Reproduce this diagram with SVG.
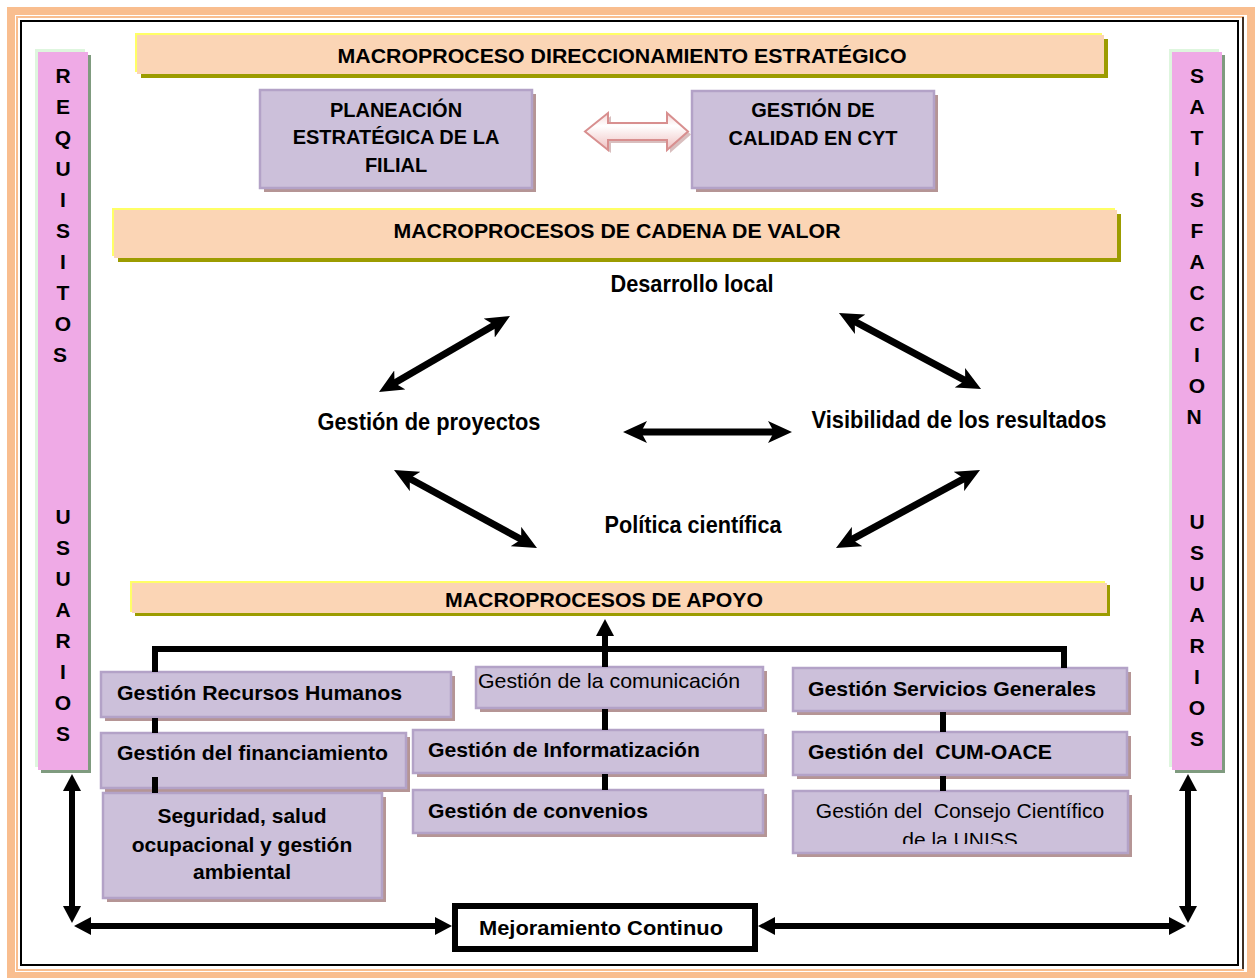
<svg xmlns="http://www.w3.org/2000/svg" width="1255" height="978" viewBox="0 0 1255 978">
<defs>
<style>
.t{font-family:"Liberation Sans",Arial,sans-serif;fill:#000}
.b{font-weight:bold}
.bar{fill:#efaae6}
.barhl{fill:#def6de}
.barsh{fill:#7f9b7f}
.ttl{fill:#fbd5b5}
.ttlhl{fill:#ffff66}
.ttlsh{fill:#9c9c00}
.box{fill:#ccc0da;stroke:#b3a2c7;stroke-width:2.5}
.sh{fill:#b59595}
.ln{stroke:#000;stroke-width:6;fill:none}
.cyc{stroke:#000;stroke-width:7;fill:none;marker-start:url(#st);marker-end:url(#st)}
</style>
<marker id="st" viewBox="0 0 26 22" refX="10" refY="11" markerWidth="26" markerHeight="22" markerUnits="userSpaceOnUse" orient="auto-start-reverse">
<path d="M24,11 L0,0 L6,11 L0,22 Z" fill="#000"/>
</marker>
<marker id="tri" viewBox="0 0 18 18" refX="2" refY="9" markerWidth="18" markerHeight="18" markerUnits="userSpaceOnUse" orient="auto-start-reverse">
<path d="M17,9 L0,0 L0,18 Z" fill="#000"/>
</marker>
<linearGradient id="pg" x1="0" y1="0" x2="0" y2="1">
<stop offset="0" stop-color="#f6d6d6"/>
<stop offset="0.35" stop-color="#ffffff"/>
<stop offset="1" stop-color="#efc0c0"/>
</linearGradient>
<clipPath id="cc"><rect x="793" y="791" width="336" height="53"/></clipPath>
</defs>
<rect width="1255" height="978" fill="#fff"/>
<g id="frame">
<rect x="11" y="11" width="1240" height="965" fill="none" stroke="#f9be8f" stroke-width="8"/>
<rect x="17" y="17" width="1226" height="953" fill="none" stroke="#f9be8f" stroke-width="2"/>
<line x1="1243" y1="17" x2="1243" y2="969" stroke="#000" stroke-width="1.5"/>
<rect x="21" y="21" width="1217" height="944" fill="none" stroke="#000" stroke-width="2"/>
</g>
<g id="requisitos">
<rect class="barhl" x="35" y="49" width="50" height="718"/>
<rect class="barsh" x="41" y="55" width="50" height="718"/>
<rect class="bar" x="38" y="52" width="50" height="718"/>
<text class="t b" font-size="21" text-anchor="middle">
<tspan x="63" y="83">R</tspan><tspan x="63" y="114">E</tspan><tspan x="63" y="145">Q</tspan><tspan x="63" y="176">U</tspan><tspan x="63" y="207">I</tspan><tspan x="63" y="238">S</tspan><tspan x="63" y="269">I</tspan><tspan x="63" y="300">T</tspan><tspan x="63" y="331">O</tspan><tspan x="63" y="362">S</tspan>
<tspan x="63" y="524">U</tspan><tspan x="63" y="555">S</tspan><tspan x="63" y="586">U</tspan><tspan x="63" y="617">A</tspan><tspan x="63" y="648">R</tspan><tspan x="63" y="679">I</tspan><tspan x="63" y="710">O</tspan><tspan x="63" y="741">S</tspan>
</text>
</g>
<g id="satisfaccion">
<rect class="barhl" x="1169" y="49" width="50" height="718"/>
<rect class="barsh" x="1175" y="55" width="50" height="718"/>
<rect class="bar" x="1172" y="52" width="50" height="718"/>
<text class="t b" font-size="21" text-anchor="middle">
<tspan x="1197" y="83">S</tspan><tspan x="1197" y="114">A</tspan><tspan x="1197" y="145">T</tspan><tspan x="1197" y="176">I</tspan><tspan x="1197" y="207">S</tspan><tspan x="1197" y="238">F</tspan><tspan x="1197" y="269">A</tspan><tspan x="1197" y="300">C</tspan><tspan x="1197" y="331">C</tspan><tspan x="1197" y="362">I</tspan><tspan x="1197" y="393">O</tspan><tspan x="1197" y="424">N</tspan>
<tspan x="1197" y="529">U</tspan><tspan x="1197" y="560">S</tspan><tspan x="1197" y="591">U</tspan><tspan x="1197" y="622">A</tspan><tspan x="1197" y="653">R</tspan><tspan x="1197" y="684">I</tspan><tspan x="1197" y="715">O</tspan><tspan x="1197" y="746">S</tspan>
</text>
</g>
<g id="direccionamiento">
<rect class="ttlhl" x="135" y="33" width="967" height="39"/>
<rect class="ttlsh" x="141" y="39" width="967" height="39"/>
<rect class="ttl" x="137" y="35" width="967" height="39"/>
<text class="t b" font-size="21" x="622" y="63" text-anchor="middle" textLength="569" lengthAdjust="spacingAndGlyphs">MACROPROCESO DIRECCIONAMIENTO ESTRATÉGICO</text>
</g>
<g id="planeacion">
<rect class="sh" x="264" y="94" width="272" height="98"/>
<rect class="box" x="260" y="90" width="272" height="98"/>
<text class="t b" font-size="20" text-anchor="middle"><tspan x="396" y="117">PLANEACIÓN</tspan><tspan x="396" y="144">ESTRATÉGICA  DE LA</tspan><tspan x="396" y="172">FILIAL</tspan></text>
</g>
<g id="calidad">
<rect class="sh" x="696" y="95" width="242" height="97"/>
<rect class="box" x="692" y="91" width="242" height="97"/>
<text class="t b" font-size="20" text-anchor="middle"><tspan x="813" y="117">GESTIÓN DE</tspan><tspan x="813" y="145">CALIDAD EN CYT</tspan></text>
</g>
<g id="cadena">
<rect class="ttlhl" x="112" y="208" width="1003" height="48"/>
<rect class="ttlsh" x="118" y="214" width="1003" height="48"/>
<rect class="ttl" x="114" y="210" width="1003" height="48"/>
<text class="t b" font-size="21" x="617" y="238" text-anchor="middle" textLength="447" lengthAdjust="spacingAndGlyphs">MACROPROCESOS DE CADENA DE VALOR</text>
</g>
<g id="desarrollo"><text class="t b" font-size="24" x="692" y="292" text-anchor="middle" textLength="163" lengthAdjust="spacingAndGlyphs">Desarrollo local</text></g>
<g id="proyectos"><text class="t b" font-size="24" x="429" y="430" text-anchor="middle" textLength="223" lengthAdjust="spacingAndGlyphs">Gestión de proyectos</text></g>
<g id="visibilidad"><text class="t b" font-size="24" x="959" y="428" text-anchor="middle" textLength="295" lengthAdjust="spacingAndGlyphs">Visibilidad de los resultados</text></g>
<g id="politica"><text class="t b" font-size="24" x="693" y="533" text-anchor="middle" textLength="177" lengthAdjust="spacingAndGlyphs">Política científica</text></g>
<g id="apoyo">
<rect class="ttlhl" x="130" y="581" width="975" height="31"/>
<rect class="ttlsh" x="135" y="585" width="975" height="31"/>
<rect class="ttl" x="132" y="583" width="975" height="30"/>
<text class="t b" font-size="21" x="604" y="607" text-anchor="middle" textLength="318" lengthAdjust="spacingAndGlyphs">MACROPROCESOS DE APOYO</text>
</g>
<g id="rrhh">
<rect class="sh" x="105" y="676" width="350" height="45"/>
<rect class="box" x="101" y="672" width="350" height="45"/>
<text class="t b" font-size="21" x="117" y="700" textLength="285" lengthAdjust="spacingAndGlyphs">Gestión Recursos Humanos</text>
</g>
<g id="financiamiento">
<rect class="sh" x="105" y="737" width="305" height="55"/>
<rect class="box" x="101" y="733" width="305" height="55"/>
<text class="t b" font-size="21" x="117" y="760" textLength="271" lengthAdjust="spacingAndGlyphs">Gestión del financiamiento</text>
</g>
<g id="seguridad">
<rect class="sh" x="107" y="797" width="279" height="105"/>
<rect class="box" x="103" y="793" width="279" height="105"/>
<text class="t b" font-size="21" text-anchor="middle"><tspan x="242" y="823">Seguridad, salud</tspan><tspan x="242" y="852">ocupacional y gestión</tspan><tspan x="242" y="879">ambiental</tspan></text>
</g>
<g id="comunicacion">
<rect class="sh" x="480" y="671" width="287" height="41"/>
<rect class="box" x="476" y="667" width="287" height="41"/>
<text class="t" font-size="21" x="478" y="688" textLength="262" lengthAdjust="spacingAndGlyphs">Gestión de la comunicación</text>
</g>
<g id="informatizacion">
<rect class="sh" x="417" y="734" width="350" height="43"/>
<rect class="box" x="413" y="730" width="350" height="43"/>
<text class="t b" font-size="21" x="428" y="757" textLength="272" lengthAdjust="spacingAndGlyphs">Gestión de Informatización</text>
</g>
<g id="convenios">
<rect class="sh" x="417" y="794" width="350" height="43"/>
<rect class="box" x="413" y="790" width="350" height="43"/>
<text class="t b" font-size="21" x="428" y="818" textLength="220" lengthAdjust="spacingAndGlyphs">Gestión de convenios</text>
</g>
<g id="servicios">
<rect class="sh" x="797" y="672" width="334" height="43"/>
<rect class="box" x="793" y="668" width="334" height="43"/>
<text class="t b" font-size="21" x="808" y="696" textLength="288" lengthAdjust="spacingAndGlyphs">Gestión Servicios Generales</text>
</g>
<g id="cumoace">
<rect class="sh" x="797" y="736" width="334" height="43"/>
<rect class="box" x="793" y="732" width="334" height="43"/>
<text class="t b" font-size="21" x="808" y="759" textLength="244" lengthAdjust="spacingAndGlyphs" xml:space="preserve">Gestión del  CUM-OACE</text>
</g>
<g id="consejo">
<rect class="sh" x="797" y="795" width="335" height="62"/>
<rect class="box" x="793" y="791" width="335" height="62"/>
<g clip-path="url(#cc)">
<text class="t" font-size="21" text-anchor="middle" xml:space="preserve"><tspan x="960" y="818">Gestión del  Consejo Científico</tspan><tspan x="960" y="847">de la UNISS</tspan></text>
</g>
</g>
<g id="mejoramiento">
<rect x="455" y="906" width="300" height="43" fill="#fff" stroke="#000" stroke-width="6"/>
<text class="t b" font-size="21" x="601" y="935" text-anchor="middle" textLength="244" lengthAdjust="spacingAndGlyphs">Mejoramiento Continuo</text>
</g>
<g id="connectors">
<polygon points="588,134.5 611,116 611,126 670,126 670,116 691,134.5 670,153 670,143 611,143 611,153" fill="#c9a3a3" opacity="0.7"/>
<polygon points="585,131.5 608,113 608,123 667,123 667,113 688,131.5 667,150 667,140 608,140 608,150" fill="url(#pg)" stroke="#d88f8f" stroke-width="2"/>
<line class="cyc" x1="391.1" y1="385" x2="497.9" y2="323"/>
<line class="cyc" x1="851.3" y1="319.6" x2="968.7" y2="382.4"/>
<line class="cyc" x1="637" y1="432" x2="778" y2="432"/>
<line class="cyc" x1="406.3" y1="476.7" x2="524.7" y2="541.3"/>
<line class="cyc" x1="967.7" y1="476.7" x2="848.3" y2="541.3"/>
<polyline class="ln" points="155,672 155,649 1064,649 1064,668"/>
<line class="ln" x1="605" y1="667" x2="605" y2="634" marker-end="url(#tri)"/>
<line class="ln" x1="155" y1="718" x2="155" y2="733"/>
<line class="ln" x1="155" y1="777" x2="155" y2="793"/>
<line class="ln" x1="605" y1="709" x2="605" y2="730"/>
<line class="ln" x1="605" y1="774" x2="605" y2="790"/>
<line class="ln" x1="943" y1="712" x2="943" y2="732"/>
<line class="ln" x1="943" y1="776" x2="943" y2="791"/>
<line class="ln" stroke-width="5" x1="72" y1="789" x2="72" y2="908" marker-start="url(#tri)" marker-end="url(#tri)"/>
<line class="ln" stroke-width="5" x1="89" y1="926" x2="437" y2="926" marker-start="url(#tri)" marker-end="url(#tri)"/>
<line class="ln" stroke-width="5" x1="773" y1="926" x2="1171" y2="926" marker-start="url(#tri)" marker-end="url(#tri)"/>
<line class="ln" stroke-width="5" x1="1188" y1="789" x2="1188" y2="908" marker-start="url(#tri)" marker-end="url(#tri)"/>
</g>
</svg>
